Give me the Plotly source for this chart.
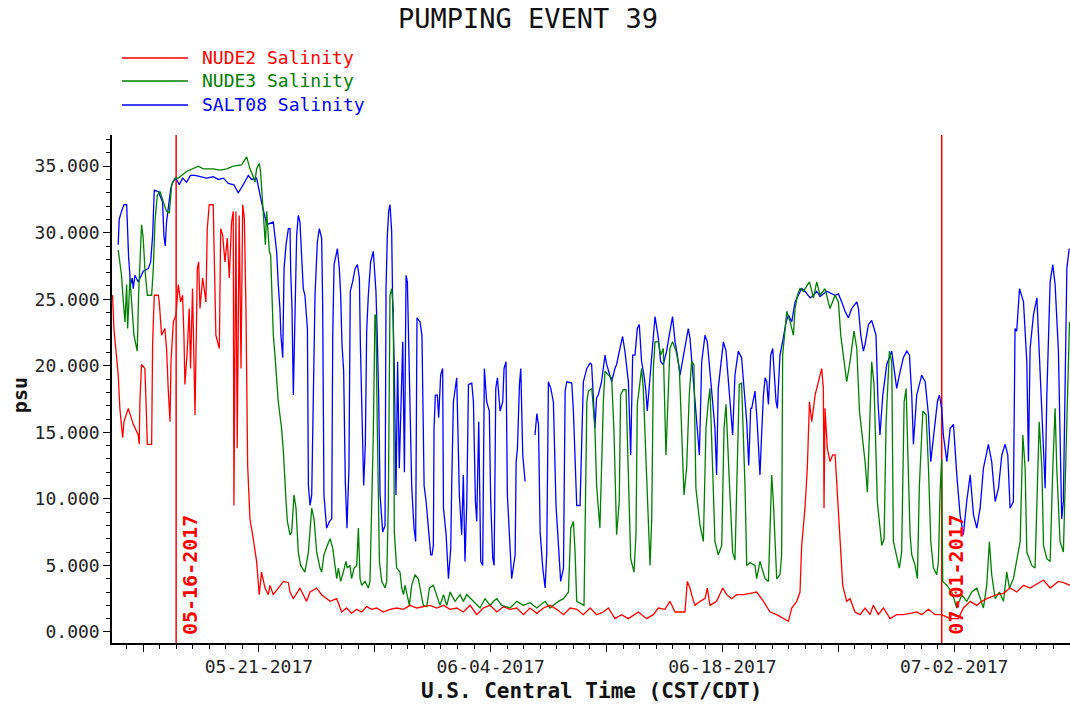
import plotly.graph_objects as go
import pandas as pd

# ---------------- data (days since 2017-05-12 00:00 CST/CDT, salinity psu) ----------------
START = pd.Timestamp("2017-05-12 00:00")

nude2_obs = [
    (0.05, 25.0), (0.16, 25.3), (0.24, 22.8), (0.36, 21.3), (0.50, 19.3), (0.60, 16.8), (0.77, 14.6),
    (0.85, 15.8), (1.11, 16.8), (1.41, 15.6), (1.71, 14.8), (1.77, 14.1), (1.81, 17.3), (1.91, 20.1),
    (2.11, 19.8), (2.18, 17.3), (2.26, 14.1), (2.52, 14.1), (2.58, 21.8), (2.68, 25.3), (2.92, 25.3),
    (2.98, 24.8), (3.12, 22.3), (3.32, 22.8), (3.42, 21.3), (3.52, 18.3), (3.63, 15.8), (3.69, 20.3),
    (3.83, 23.3), (3.99, 23.8), (4.13, 26.1), (4.27, 24.8), (4.39, 25.3), (4.47, 22.3), (4.53, 18.6),
    (4.67, 21.1), (4.79, 24.3), (4.87, 19.8), (4.99, 25.8), (5.14, 16.3), (5.28, 27.3), (5.36, 27.8),
    (5.44, 24.3), (5.60, 26.6), (5.80, 24.8), (5.88, 30.3), (6.00, 32.1), (6.24, 32.1), (6.34, 25.8),
    (6.40, 22.3), (6.61, 21.3), (6.69, 30.3), (6.81, 29.8), (6.95, 27.8), (7.09, 29.6), (7.21, 26.6),
    (7.35, 30.8), (7.45, 31.6), (7.49, 9.5), (7.61, 31.6), (7.69, 13.8), (7.81, 31.3), (7.92, 19.8),
    (8.02, 32.1), (8.12, 31.1), (8.22, 24.1), (8.32, 12.5), (8.46, 8.5), (8.66, 7.0), (8.86, 5.3),
    (9.02, 2.8), (9.16, 4.5), (9.37, 3.3), (9.57, 2.8), (9.67, 3.5), (9.87, 2.8), (10.17, 3.3),
    (10.48, 3.8), (10.78, 3.7), (10.88, 3.0), (11.08, 2.5), (11.48, 3.3), (11.68, 2.8), (11.88, 2.3),
    (12.09, 3.0), (12.49, 3.3), (12.79, 2.8), (13.09, 2.5), (13.30, 2.3), (13.70, 2.5), (14.00, 1.5),
    (14.30, 1.8), (14.60, 1.4), (14.91, 1.7), (15.21, 1.5), (15.51, 1.9), (15.81, 1.7), (16.11, 1.8),
    (16.52, 1.5), (16.92, 1.7), (17.32, 1.8), (17.73, 1.7), (18.13, 2.0), (18.53, 1.8), (18.93, 1.9),
    (19.34, 2.0), (19.74, 1.8), (20.15, 2.0), (20.55, 1.7), (20.95, 1.8), (21.35, 1.5), (21.76, 2.0),
    (22.16, 1.3), (22.56, 1.8), (22.97, 2.0), (23.37, 1.5), (23.77, 1.9), (24.17, 1.7), (24.58, 1.8),
    (24.98, 1.3), (25.38, 1.8), (25.79, 1.4), (26.19, 1.8), (26.59, 2.0), (26.99, 1.7), (27.40, 1.3),
    (27.80, 1.8), (28.20, 1.7), (28.60, 1.3), (29.01, 1.8), (29.40, 1.3), (29.81, 1.5), (30.11, 1.8),
    (30.51, 1.0), (30.91, 1.3), (31.32, 1.0), (31.92, 1.5), (32.42, 1.0), (32.83, 1.3), (33.13, 1.8),
    (33.53, 1.7), (33.83, 2.3), (34.14, 1.5), (34.74, 1.5), (34.88, 3.8), (35.04, 3.3), (35.14, 2.8),
    (35.34, 2.0), (35.65, 2.3), (35.95, 2.5), (36.09, 3.3), (36.25, 2.0), (36.65, 2.3), (37.02, 3.3),
    (37.26, 2.8), (37.56, 2.5), (37.86, 2.8), (38.27, 2.8), (38.67, 2.9), (39.07, 3.0), (39.48, 2.3),
    (39.88, 1.5), (40.28, 1.3), (40.68, 1.0), (40.99, 0.8), (41.19, 1.8), (41.49, 2.3), (41.69, 3.0),
    (41.79, 6.5), (41.99, 9.3), (42.13, 12.3), (42.26, 17.3), (42.40, 15.8), (42.60, 17.8), (42.80, 18.8),
    (43.00, 19.8), (43.10, 18.3), (43.14, 9.3), (43.20, 16.8), (43.34, 13.8), (43.50, 12.8), (43.66, 13.3),
    (43.81, 13.3), (43.95, 10.3), (44.07, 7.3), (44.27, 3.5), (44.51, 2.3), (44.71, 2.5), (45.01, 1.5),
    (45.32, 1.3), (45.62, 1.8), (45.92, 1.3), (46.12, 2.0), (46.42, 1.3), (46.73, 1.8), (47.13, 1.0),
    (47.53, 1.3), (47.93, 1.3), (48.34, 1.4), (48.74, 1.5), (49.04, 1.3), (49.45, 1.7), (49.85, 1.3),
    (50.25, 1.3), (50.76, 1.0), (51.26, 1.0), (51.56, 1.8), (51.97, 2.3), (52.37, 2.0), (52.67, 2.3),
    (52.97, 2.5), (53.58, 2.8), (53.98, 2.9), (54.38, 3.3), (54.78, 3.0), (55.19, 3.5), (55.59, 3.3),
    (56.40, 3.9), (56.80, 3.3), (57.30, 3.8), (57.61, 3.7), (58.01, 3.5),
]

nude3_obs = [
    (0.50, 28.7), (0.60, 27.8), (0.70, 26.8), (0.81, 24.8), (0.91, 23.3), (1.01, 26.1), (1.07, 22.8),
    (1.21, 26.6), (1.33, 24.3), (1.45, 22.3), (1.65, 21.1), (1.73, 25.3), (1.91, 30.6), (2.01, 29.6),
    (2.11, 27.3), (2.26, 25.3), (2.52, 25.3), (2.62, 27.3), (2.72, 30.8), (2.86, 32.8), (3.02, 33.1),
    (3.22, 32.3), (3.42, 31.6), (3.59, 31.5), (3.73, 33.6), (3.93, 34.1), (4.13, 34.1), (4.63, 34.6),
    (5.04, 34.8), (5.34, 35.0), (5.64, 34.8), (6.24, 34.8), (6.65, 34.7), (7.05, 34.8), (7.45, 35.0),
    (7.96, 35.1), (8.26, 35.7), (8.36, 35.3), (8.46, 34.8), (8.66, 34.2), (8.76, 33.8), (8.86, 34.8),
    (9.02, 35.2), (9.10, 34.6), (9.22, 32.3), (9.31, 31.1), (9.39, 29.1), (9.47, 31.6), (9.63, 28.6),
    (9.71, 28.3), (9.77, 25.8), (9.87, 22.3), (9.97, 20.8), (10.17, 17.3), (10.37, 15.3), (10.48, 13.5),
    (10.64, 9.8), (10.72, 8.3), (10.88, 7.3), (10.98, 7.5), (11.12, 10.3), (11.24, 9.3), (11.38, 6.0),
    (11.52, 5.0), (11.78, 4.5), (11.99, 6.0), (12.19, 9.3), (12.33, 8.5), (12.49, 6.0), (12.69, 4.8),
    (12.79, 4.5), (12.93, 5.8), (13.13, 6.5), (13.30, 7.0), (13.46, 6.3), (13.60, 5.0), (13.70, 4.0),
    (13.80, 4.8), (13.94, 3.8), (14.10, 4.5), (14.26, 5.3), (14.34, 4.8), (14.50, 5.0), (14.60, 4.0),
    (14.75, 4.8), (14.91, 5.0), (15.01, 7.8), (15.11, 4.0), (15.21, 3.5), (15.41, 3.8), (15.61, 3.3),
    (15.71, 3.8), (15.81, 9.8), (15.91, 14.8), (16.01, 23.8), (16.07, 23.8), (16.15, 15.6), (16.28, 5.3),
    (16.42, 3.8), (16.62, 3.3), (16.72, 3.8), (16.82, 9.8), (16.92, 25.3), (17.02, 25.8), (17.12, 24.3),
    (17.18, 7.5), (17.32, 4.8), (17.52, 4.5), (17.63, 3.3), (17.73, 2.8), (17.83, 3.5), (18.09, 2.0),
    (18.23, 3.5), (18.43, 4.3), (18.63, 4.0), (18.93, 2.0), (19.14, 1.9), (19.30, 3.3), (19.54, 3.5),
    (19.74, 2.8), (19.94, 2.0), (20.15, 2.8), (20.35, 2.0), (20.55, 3.0), (20.85, 2.3), (21.15, 2.8),
    (21.35, 2.3), (21.56, 2.8), (21.86, 2.4), (22.16, 2.0), (22.36, 1.8), (22.66, 2.5), (22.97, 2.0),
    (23.17, 2.3), (23.37, 2.5), (23.67, 2.0), (24.17, 1.8), (24.58, 2.3), (24.98, 2.0), (25.38, 2.2),
    (25.79, 1.8), (26.29, 2.3), (26.59, 1.8), (27.09, 2.3), (27.40, 2.5), (27.70, 3.0), (27.84, 7.8),
    (28.00, 8.3), (28.10, 6.0), (28.20, 2.3), (28.64, 2.0), (28.73, 9.8), (28.81, 17.3), (28.91, 18.1),
    (29.11, 18.3), (29.30, 15.3), (29.40, 11.0), (29.60, 7.8), (29.70, 12.3), (29.81, 17.3), (29.91, 19.6),
    (30.11, 19.3), (30.31, 19.1), (30.45, 15.1), (30.61, 7.3), (30.77, 9.8), (30.85, 17.8), (31.01, 18.2),
    (31.18, 18.2), (31.26, 14.8), (31.46, 5.5), (31.66, 4.5), (31.78, 7.3), (31.86, 17.1), (32.12, 19.8),
    (32.22, 18.3), (32.32, 15.1), (32.42, 12.3), (32.63, 5.0), (32.73, 8.5), (32.83, 19.8), (32.93, 21.8),
    (33.13, 21.8), (33.27, 20.8), (33.43, 21.3), (33.59, 13.3), (33.67, 15.6), (33.83, 21.3), (33.99, 21.8),
    (34.20, 21.1), (34.40, 19.8), (34.68, 10.3), (34.84, 12.3), (35.00, 17.8), (35.14, 20.3), (35.28, 20.1),
    (35.40, 10.8), (35.65, 8.0), (35.85, 6.8), (35.95, 11.3), (36.01, 15.3), (36.15, 17.3), (36.25, 18.3),
    (36.41, 12.3), (36.55, 6.8), (36.75, 5.8), (36.96, 6.5), (37.10, 15.3), (37.22, 17.1), (37.42, 11.3),
    (37.62, 6.0), (37.76, 5.4), (37.86, 10.5), (38.02, 18.6), (38.16, 18.7), (38.37, 10.8), (38.47, 5.0),
    (38.67, 5.2), (38.97, 5.0), (39.07, 4.0), (39.27, 5.3), (39.58, 4.0), (39.78, 3.8), (39.98, 11.8),
    (40.08, 9.8), (40.28, 4.0), (40.48, 4.3), (40.58, 5.8), (40.64, 20.8), (40.72, 21.8), (40.89, 24.1),
    (41.09, 23.3), (41.29, 22.3), (41.39, 24.3), (41.53, 25.3), (41.69, 25.8), (41.89, 25.6), (42.26, 26.3),
    (42.50, 25.1), (42.70, 26.3), (42.90, 25.3), (43.20, 25.8), (43.50, 24.3), (43.81, 25.3), (44.01, 24.8),
    (44.15, 22.3), (44.35, 20.3), (44.51, 18.8), (44.71, 20.3), (44.95, 22.6), (45.12, 21.3), (45.28, 16.6),
    (45.62, 12.8), (45.76, 10.5), (45.88, 14.8), (46.02, 20.3), (46.16, 18.6), (46.36, 9.8), (46.63, 6.5),
    (46.77, 7.0), (46.89, 15.8), (47.09, 21.1), (47.23, 20.3), (47.33, 6.8), (47.69, 4.8), (47.83, 6.0),
    (47.98, 17.3), (48.10, 18.3), (48.24, 11.8), (48.34, 7.3), (48.44, 5.8), (48.64, 5.0), (48.78, 4.0),
    (48.90, 11.0), (49.11, 16.6), (49.31, 16.3), (49.45, 12.3), (49.59, 6.8), (49.75, 4.8), (49.95, 4.3),
    (50.05, 5.3), (50.15, 10.5), (50.25, 13.0), (50.31, 3.8), (50.56, 3.5), (50.86, 3.0), (51.16, 1.8),
    (51.46, 2.8), (51.76, 2.3), (52.07, 3.0), (52.37, 3.3), (52.77, 1.8), (52.97, 3.5), (53.13, 6.8),
    (53.27, 4.3), (53.48, 2.5), (53.74, 3.0), (53.98, 2.3), (54.18, 4.5), (54.34, 3.3), (54.58, 4.0),
    (54.78, 5.3), (54.99, 6.8), (55.15, 14.8), (55.29, 12.3), (55.39, 6.0), (55.69, 5.0), (55.89, 4.8),
    (56.03, 10.8), (56.14, 15.8), (56.30, 12.3), (56.40, 6.5), (56.60, 5.5), (56.80, 5.3), (56.96, 12.3),
    (57.10, 16.8), (57.20, 12.3), (57.40, 6.8), (57.60, 6.0), (57.77, 14.8), (57.97, 23.3),
]

salt08_obs = [
    (0.50, 29.1), (0.56, 31.0), (0.70, 31.6), (0.85, 32.1), (1.01, 32.1), (1.05, 30.8), (1.13, 28.1),
    (1.25, 26.1), (1.35, 26.6), (1.41, 25.8), (1.51, 26.8), (1.71, 26.3), (2.01, 27.1), (2.32, 27.3),
    (2.46, 27.8), (2.58, 29.8), (2.68, 33.2), (2.92, 33.1), (3.02, 32.8), (3.18, 32.3), (3.26, 29.8),
    (3.34, 29.0), (3.42, 30.8), (3.54, 32.1), (3.67, 33.3), (3.79, 33.8), (3.99, 34.1), (4.19, 33.6),
    (4.39, 34.1), (4.63, 33.8), (4.87, 34.3), (5.14, 34.3), (5.44, 34.2), (5.84, 34.1), (6.24, 34.2),
    (6.55, 34.0), (6.85, 34.1), (7.15, 33.7), (7.49, 33.6), (7.75, 33.0), (7.96, 33.4), (8.16, 33.8),
    (8.36, 34.3), (8.56, 34.0), (8.86, 34.1), (9.16, 32.3), (9.47, 30.6), (9.87, 30.8), (9.97, 29.8),
    (10.07, 28.6), (10.17, 26.1), (10.27, 24.3), (10.33, 22.3), (10.44, 20.6), (10.52, 27.3), (10.64, 29.1),
    (10.78, 30.3), (10.88, 30.3), (10.92, 27.1), (11.00, 24.3), (11.08, 17.8), (11.18, 23.8), (11.28, 29.8),
    (11.38, 31.3), (11.48, 30.8), (11.58, 28.3), (11.68, 25.8), (11.78, 25.3), (11.93, 22.8), (11.99, 11.0),
    (12.09, 9.5), (12.19, 10.3), (12.39, 25.3), (12.53, 29.3), (12.65, 30.3), (12.79, 29.6), (12.85, 24.8),
    (12.93, 10.3), (13.09, 7.8), (13.26, 8.3), (13.40, 8.5), (13.46, 22.3), (13.54, 27.6), (13.66, 28.3),
    (13.74, 28.8), (13.86, 27.3), (13.94, 25.3), (14.02, 21.6), (14.12, 19.6), (14.22, 11.3), (14.32, 7.8),
    (14.44, 12.3), (14.52, 25.6), (14.66, 26.3), (14.81, 27.3), (14.95, 27.6), (15.07, 26.6), (15.13, 21.6),
    (15.23, 15.3), (15.33, 11.0), (15.43, 14.1), (15.51, 22.6), (15.61, 25.3), (15.75, 27.8), (15.91, 28.6),
    (16.07, 25.6), (16.15, 22.3), (16.24, 17.3), (16.32, 10.3), (16.48, 7.5), (16.62, 8.0), (16.68, 25.8),
    (16.76, 29.8), (16.84, 31.6), (16.92, 32.1), (17.02, 30.1), (17.08, 24.8), (17.18, 19.8), (17.28, 10.3),
    (17.38, 20.3), (17.48, 12.3), (17.59, 18.3), (17.69, 21.8), (17.79, 12.0), (17.89, 26.8), (17.97, 26.3),
    (18.09, 19.3), (18.23, 11.0), (18.37, 7.8), (18.47, 6.8), (18.55, 23.6), (18.73, 23.3), (18.85, 22.3),
    (18.98, 11.0), (19.10, 9.8), (19.22, 8.0), (19.38, 5.8), (19.46, 5.8), (19.54, 6.5), (19.58, 15.3),
    (19.66, 17.8), (19.78, 17.8), (19.86, 16.1), (19.98, 19.3), (20.10, 19.8), (20.15, 9.3), (20.31, 7.3),
    (20.45, 4.0), (20.59, 6.3), (20.65, 11.3), (20.75, 17.3), (20.95, 19.1), (21.11, 10.3), (21.25, 7.3),
    (21.35, 11.8), (21.45, 5.3), (21.56, 9.8), (21.66, 18.6), (21.86, 18.7), (21.96, 17.3), (22.08, 9.8),
    (22.16, 8.3), (22.28, 15.8), (22.40, 5.3), (22.52, 5.0), (22.62, 19.8), (22.76, 17.3), (22.92, 16.6),
    (23.00, 10.0), (23.13, 5.5), (23.21, 5.0), (23.31, 18.3), (23.41, 19.1), (23.57, 16.6), (23.73, 17.3),
    (23.81, 19.8), (23.93, 20.3), (24.01, 10.3), (24.17, 6.5), (24.27, 4.0), (24.48, 5.8), (24.54, 12.8),
    (24.62, 13.8), (24.74, 18.6), (24.82, 19.8), (24.94, 13.3), (25.08, 11.3), (25.38, None),
    (25.68, 14.8), (25.79, 16.4), (25.89, 15.6), (25.99, 7.5), (26.15, 4.8), (26.29, 3.3), (26.39, 6.0),
    (26.49, 18.8), (26.63, 18.3), (26.79, 17.3), (26.95, 9.5), (27.09, 6.8), (27.23, 3.8), (27.40, 4.8),
    (27.50, 18.1), (27.60, 18.8), (27.90, 18.7), (28.00, 16.6), (28.10, 13.5), (28.20, 9.5), (28.40, 9.5),
    (28.50, 14.3), (28.60, 18.8), (28.81, 19.8), (29.01, 20.2), (29.10, 20.1), (29.20, 17.3), (29.30, 15.3),
    (29.40, 17.6), (29.50, 17.8), (29.70, 18.8), (29.91, 20.8), (30.01, 20.1), (30.31, 18.8), (30.51, 19.8),
    (30.61, 20.1), (30.81, 21.3), (30.97, 22.2), (31.11, 21.1), (31.32, 18.8), (31.46, 13.3), (31.58, 20.8),
    (31.72, 20.8), (31.86, 22.8), (31.98, 23.1), (32.12, 20.3), (32.26, 19.3), (32.38, 18.1), (32.46, 16.6),
    (32.59, 18.6), (32.73, 21.3), (32.83, 22.8), (32.93, 23.7), (33.13, 22.1), (33.27, 20.3), (33.43, 20.1),
    (33.63, 21.1), (33.79, 22.3), (33.99, 23.7), (34.14, 21.8), (34.28, 20.8), (34.44, 19.3), (34.74, 21.3),
    (34.94, 22.8), (35.04, 22.1), (35.20, 19.8), (35.45, 16.1), (35.61, 13.3), (35.75, 20.3), (35.95, 22.3),
    (36.09, 21.8), (36.25, 19.8), (36.41, 17.3), (36.55, 15.3), (36.65, 11.8), (36.75, 18.3), (36.96, 20.8),
    (37.06, 21.8), (37.22, 21.1), (37.46, 17.3), (37.62, 14.8), (37.76, 19.3), (37.96, 21.1), (38.16, 20.6),
    (38.31, 18.3), (38.47, 15.8), (38.59, 12.5), (38.71, 16.8), (38.77, 16.8), (38.97, 18.1), (39.11, 15.6),
    (39.27, 11.8), (39.37, 14.8), (39.48, 17.8), (39.58, 19.1), (39.68, 18.8), (39.78, 17.1), (39.92, 20.8),
    (40.04, 21.3), (40.12, 19.8), (40.24, 17.3), (40.32, 16.8), (40.48, 20.8), (40.68, 22.1), (40.85, 23.3),
    (40.99, 23.8), (41.19, 23.3), (41.39, 24.8), (41.59, 25.3), (41.79, 25.8), (41.99, 25.6), (42.30, 25.1),
    (42.50, 25.3), (42.70, 25.6), (42.90, 25.2), (43.30, 25.6), (43.81, 25.3), (44.01, 25.4), (44.21, 24.8),
    (44.41, 24.1), (44.61, 23.6), (44.81, 24.3), (45.12, 24.8), (45.22, 24.3), (45.36, 22.3), (45.52, 21.1),
    (45.62, 21.6), (45.82, 23.1), (46.02, 23.4), (46.28, 22.3), (46.40, 17.3), (46.52, 14.8), (46.69, 17.8),
    (46.83, 19.1), (46.93, 20.1), (47.23, 21.1), (47.37, 19.8), (47.53, 18.3), (47.69, 19.3), (47.93, 20.6),
    (48.14, 21.1), (48.30, 20.8), (48.44, 17.8), (48.54, 14.1), (48.74, 17.8), (49.04, 19.3), (49.25, 18.8),
    (49.45, 16.3), (49.59, 12.8), (49.79, 15.3), (49.99, 17.3), (50.11, 17.8), (50.25, 16.8), (50.35, 14.8),
    (50.56, 12.8), (50.76, 15.3), (50.96, 15.6), (51.16, 11.8), (51.36, 8.8), (51.56, 7.3), (51.76, 9.8),
    (51.97, 11.8), (52.17, 8.8), (52.37, 7.8), (52.57, 9.3), (52.77, 12.3), (53.07, 14.1), (53.27, 12.8),
    (53.48, 9.8), (53.68, 10.8), (53.88, 13.3), (54.08, 14.1), (54.24, 13.3), (54.38, 9.3), (54.58, 9.8),
    (54.68, 22.8), (54.78, 22.6), (54.95, 25.8), (55.19, 24.8), (55.39, 20.3), (55.49, 12.8), (55.59, 21.3),
    (55.79, 23.8), (56.00, 25.1), (56.14, 21.3), (56.30, 17.3), (56.50, 10.8), (56.60, 17.8), (56.80, 26.3),
    (56.96, 27.6), (57.10, 26.1), (57.30, 21.1), (57.50, 8.5), (57.60, 9.8), (57.70, 17.3), (57.81, 27.3),
    (57.95, 28.8),
]

series_names = ["NUDE2 Salinity", "NUDE3 Salinity", "SALT08 Salinity"]
series_colors = ["#ff0000", "#008000", "#0000ff"]

event_dates = ["2017-05-16 00:00", "2017-07-01 06:00"]
event_labels = ["05-16-2017", "07-01-2017"]

major_tick_dates = ["2017-05-14", "2017-05-21", "2017-05-28", "2017-06-04",
                    "2017-06-11", "2017-06-18", "2017-06-25", "2017-07-02"]
major_tick_labels = ["", "05-21-2017", "", "06-04-2017", "", "06-18-2017", "", "07-02-2017"]

title_text = "PUMPING EVENT 39"
x_title = "U.S. Central Time (CST/CDT)"
y_title = "psu"

# ---------------- figure ----------------
FONT = "DejaVu Sans Mono"
fig = go.Figure()


def to_xy(obs):
    xs = [START + pd.Timedelta(days=t) for t, _ in obs]
    ys = [v for _, v in obs]
    return xs, ys


series = [nude2_obs, nude3_obs, salt08_obs]
# draw order: blue, green, red
for idx in [2, 1, 0]:
    xs, ys = to_xy(series[idx])
    fig.add_trace(go.Scatter(x=xs, y=ys, mode="lines", name=series_names[idx],
                             line=dict(color=series_colors[idx], width=1.3),
                             connectgaps=False, showlegend=False))

# event marker lines + rotated labels
for d, lab in zip(event_dates, event_labels):
    fig.add_shape(type="line", xref="x", yref="paper", x0=d, x1=d, y0=0, y1=1,
                  line=dict(color="#ff0000", width=1.5), layer="below")
    fig.add_annotation(x=d, xref="x", y=0.134, yref="paper", text="<b>%s</b>" % lab,
                       textangle=-90, showarrow=False, xshift=14,
                       xanchor="center", yanchor="middle",
                       font=dict(family=FONT, size=20, color="#ff0000"))

# legend (drawn at top left, above plot)
legend_rows_y = [1.1516, 1.1063, 1.0591]
for name, col, yy in zip(series_names, series_colors, legend_rows_y):
    fig.add_shape(type="line", xref="paper", yref="paper", x0=0.0104, x1=0.0793, y0=yy, y1=yy,
                  line=dict(color=col, width=1.5))
    fig.add_annotation(x=0.0919, y=yy, xref="paper", yref="paper", text=name, showarrow=False,
                       xanchor="left", yanchor="middle",
                       font=dict(family=FONT, size=18, color=col))

# axis titles
fig.add_annotation(x=0.5, y=-0.0945, xref="paper", yref="paper", text="<b>%s</b>" % x_title,
                   showarrow=False, xanchor="center", yanchor="middle",
                   font=dict(family=FONT, size=21, color="#111"))
fig.add_annotation(x=-0.096, y=0.488, xref="paper", yref="paper", text="<b>%s</b>" % y_title,
                   showarrow=False, textangle=-90, xanchor="center", yanchor="middle",
                   font=dict(family=FONT, size=20, color="#111"))

fig.update_layout(
    width=1070, height=704, autosize=False,
    margin=dict(l=112, r=0, t=135, b=61),
    paper_bgcolor="white", plot_bgcolor="white",
    showlegend=False,
    font=dict(family=FONT, size=18, color="#222"),
    title=dict(text=title_text, x=528 / 1070, xref="container", xanchor="center",
               y=1 - 19 / 704, yref="container", yanchor="middle",
               font=dict(family=FONT, size=27, color="#111")),
)

fig.update_xaxes(
    type="date",
    range=["2017-05-12 03:00", "2017-07-09 00:00"],
    tickmode="array", tickvals=major_tick_dates, ticktext=major_tick_labels,
    ticks="outside", ticklen=7, tickwidth=1, tickcolor="black",
    minor=dict(ticks="outside", ticklen=4, tickwidth=1, tickcolor="black",
               tickmode="linear", dtick=86400000, tick0="2017-05-12", showgrid=False),
    showline=True, linecolor="black", linewidth=1.5,
    showgrid=False, zeroline=False,
    tickfont=dict(family=FONT, size=18, color="#222"),
)
fig.update_yaxes(
    range=[-0.83, 37.34],
    tickmode="linear", tick0=0, dtick=5, tickformat=".3f",
    ticks="outside", ticklen=7, tickwidth=1, tickcolor="black",
    minor=dict(ticks="outside", ticklen=4, tickwidth=1, tickcolor="black",
               tickmode="linear", tick0=0, dtick=1, showgrid=False),
    showline=True, linecolor="black", linewidth=1.5,
    showgrid=False, zeroline=False,
    tickfont=dict(family=FONT, size=18, color="#222"),
)

fig.write_html("out.html", config={"displayModeBar": False},
               post_script="document.body.style.margin='0';")
